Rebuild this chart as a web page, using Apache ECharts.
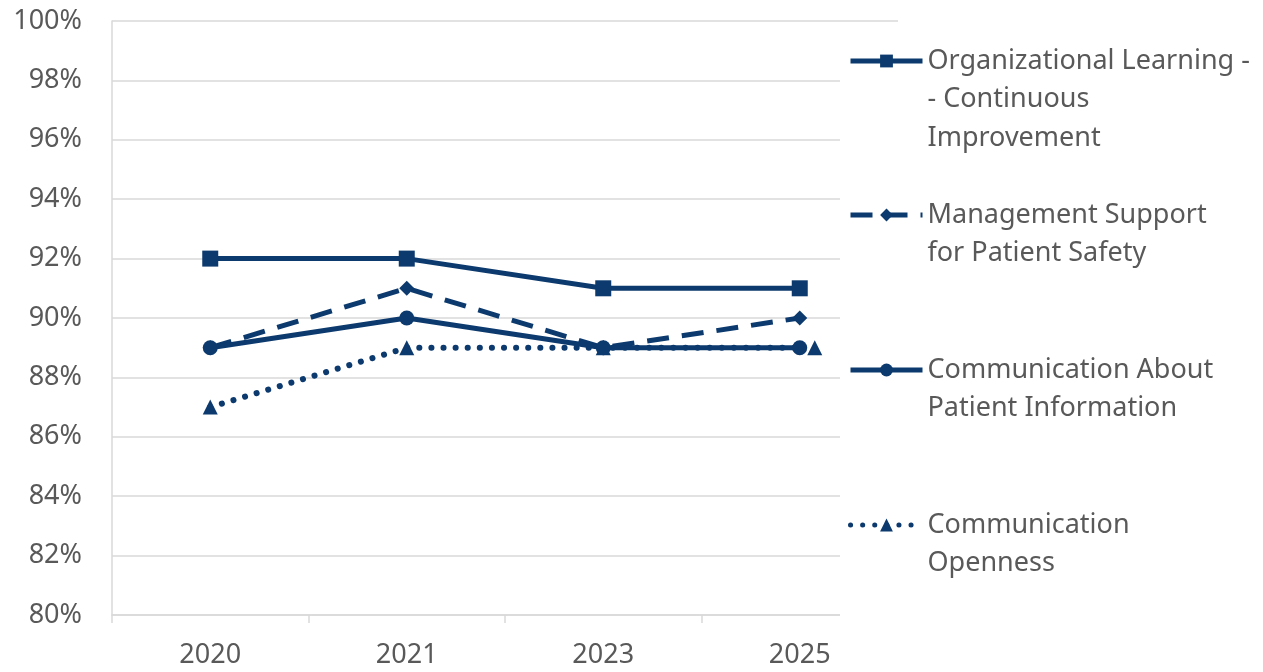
<!DOCTYPE html>
<html>
<head>
<meta charset="utf-8">
<script src="https://cdn.jsdelivr.net/npm/echarts@6/dist/echarts.min.js"></script>
<style>
html,body{margin:0;padding:0;background:#fff;}
#chart{width:1263px;height:672px;}
</style>
</head>
<body>
<div id="chart"></div>
<script>
const categories = ['2020', '2021', '2023', '2025'];
const orgLearning = [92, 92, 91, 91];
const mgmtSupport = [89, 91, 89, 90];
const commPatientInfo = [89, 90, 89, 89];
const commOpenness = [87, 89, 89, 89];
const seriesNames = [
  'Organizational Learning -\n- Continuous\nImprovement',
  'Management Support\nfor Patient Safety',
  'Communication About\nPatient Information',
  'Communication\nOpenness'
];
const yMin = 80, yMax = 100, yStep = 2;

const NAVY = '#0c3a6e';
const GRAY = '#595959';
const FONT = 'Noto Sans';
const FS = 27;
const LH = 38.5;

const chart = echarts.init(document.getElementById('chart'), null, {renderer: 'canvas'});

function legendFor(name, iconY) {
  const lines = name.split('\n').length;
  const pad = lines - 1;
  const total = lines + pad;
  return {
    data: [name],
    orient: 'vertical',
    left: 848,
    top: iconY - (total * LH) / 2,
    padding: 0,
    itemWidth: 72,
    itemHeight: 16,
    itemGap: 5,
    selectedMode: false,
    z: 10,
    lineStyle: {width: 5},
    formatter: n => '\n'.repeat(pad) + n,
    textStyle: {color: GRAY, fontFamily: FONT, fontSize: FS, lineHeight: LH}
  };
}

const option = {
  animation: false,
  backgroundColor: '#fff',
  textStyle: {fontFamily: FONT},
  grid: {left: 112, right: 365, top: 21, bottom: 57, containLabel: false},
  xAxis: {
    type: 'category',
    data: categories,
    boundaryGap: true,
    axisLine: {show: true, lineStyle: {color: '#d9d9d9', width: 1.5}},
    axisTick: {show: true, length: 8, lineStyle: {color: '#d9d9d9', width: 1.5}},
    axisLabel: {color: GRAY, fontFamily: FONT, fontSize: FS, margin: 27},
    splitLine: {show: false}
  },
  yAxis: {
    type: 'value',
    min: yMin, max: yMax, interval: yStep,
    axisLine: {show: true, lineStyle: {color: '#d9d9d9', width: 1.5}},
    axisTick: {show: false},
    axisLabel: {color: GRAY, fontFamily: FONT, fontSize: FS, margin: 30, formatter: '{value}%'},
    splitLine: {show: true, lineStyle: {color: '#d9d9d9', width: 1.5}}
  },
  graphic: [{
    type: 'rect', z: 5,
    shape: {x: 840, y: 24, width: 423, height: 648},
    style: {fill: '#fff'}
  }],
  legend: [
    legendFor(seriesNames[0], 61),
    legendFor(seriesNames[1], 215),
    legendFor(seriesNames[2], 370),
    legendFor(seriesNames[3], 525)
  ],
  series: [
    {
      name: seriesNames[3], type: 'line', data: commOpenness.map((v, i) => i === 3 ? {value: v, symbolOffset: [15, 0]} : v),
      symbol: 'triangle', symbolSize: 15, z: 2,
      lineStyle: {color: NAVY, width: 6, type: [0.1, 12], cap: 'round'},
      itemStyle: {color: NAVY}
    },
    {
      name: seriesNames[1], type: 'line', data: mgmtSupport,
      symbol: 'diamond', symbolSize: 15, z: 3,
      lineStyle: {color: NAVY, width: 5, type: [22, 13]},
      itemStyle: {color: NAVY}
    },
    {
      name: seriesNames[2], type: 'line', data: commPatientInfo,
      symbol: 'circle', symbolSize: 15, z: 3,
      lineStyle: {color: NAVY, width: 5},
      itemStyle: {color: NAVY}
    },
    {
      name: seriesNames[0], type: 'line', data: orgLearning,
      symbol: 'rect', symbolSize: 16, z: 3,
      lineStyle: {color: NAVY, width: 5},
      itemStyle: {color: NAVY}
    }
  ]
};
chart.setOption(option);
</script>
</body>
</html>
